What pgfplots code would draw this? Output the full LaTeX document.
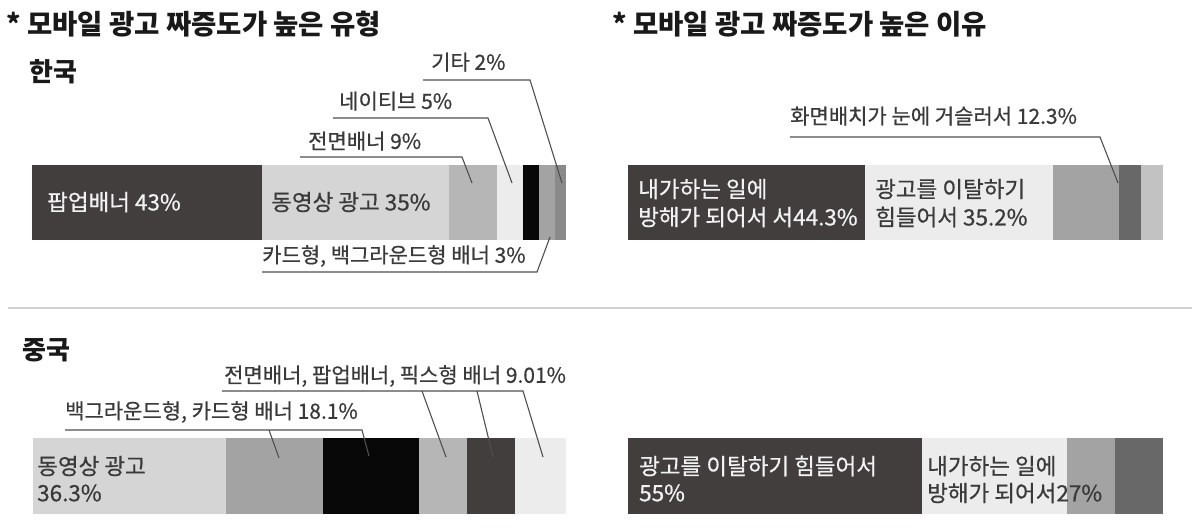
\documentclass[border=0pt]{standalone}
\usepackage{pgfplots}
\pgfplotsset{compat=1.18}
\usepackage{fontspec}
\setmainfont{Noto Sans CJK KR}
\newfontfamily\medfont{Noto Sans CJK KR}[FakeBold=0.6]
\definecolor{cDark}{HTML}{433E3E}
\definecolor{cVid}{HTML}{D5D5D5}
\definecolor{cMid}{HTML}{B6B6B6}
\definecolor{cPale}{HTML}{ECECEC}
\definecolor{cBlack}{HTML}{080808}
\definecolor{cGray}{HTML}{A3A3A3}
\definecolor{cDGray}{HTML}{8A8A8A}
\definecolor{cSlate}{HTML}{686868}
\definecolor{cLG}{HTML}{C2C2C2}
\definecolor{cLine}{HTML}{4F4F4F}
\definecolor{cTxt}{HTML}{3A3A3A}
\definecolor{cWhite}{HTML}{F2F2F2}
\begin{document}
\begin{tikzpicture}
\pgfplotsset{
  onebar/.style 2 args={
    xbar stacked, hide axis, scale only axis, width=#1, height=#2,
    xmin=0, xmax=100, ymin=0, ymax=1, enlargelimits=false, bar width=#2,
    clip=false, anchor=south west,
    every axis plot/.append style={draw=none},
  }
}
% Korea
\begin{axis}[onebar={534pt}{75pt}, at={(32pt,-240pt)}]
\addplot[fill=cDark] coordinates {(43,0.5)};
\addplot[fill=cVid] coordinates {(35,0.5)};
\addplot[fill=cMid] coordinates {(9,0.5)};
\addplot[fill=cPale] coordinates {(5,0.5)};
\addplot[fill=cBlack] coordinates {(3,0.5)};
\addplot[fill=cGray] coordinates {(3,0.5)};
\addplot[fill=cDGray] coordinates {(2,0.5)};
\end{axis}
% Reasons (Korea)
\begin{axis}[onebar={535pt}{75pt}, at={(628pt,-240pt)}]
\addplot[fill=cDark] coordinates {(44.3,0.5)};
\addplot[fill=cPale] coordinates {(35.2,0.5)};
\addplot[fill=cGray] coordinates {(12.3,0.5)};
\addplot[fill=cSlate] coordinates {(4.1,0.5)};
\addplot[fill=cLG] coordinates {(4.1,0.5)};
\end{axis}
% China
\begin{axis}[onebar={533pt}{76pt}, at={(33pt,-514pt)}]
\addplot[fill=cVid] coordinates {(36.3,0.5)};
\addplot[fill=cGray] coordinates {(18.1,0.5)};
\addplot[fill=cBlack] coordinates {(18.1,0.5)};
\addplot[fill=cMid] coordinates {(9.01,0.5)};
\addplot[fill=cDark] coordinates {(9.01,0.5)};
\addplot[fill=cPale] coordinates {(9.48,0.5)};
\end{axis}
% Reasons (China)
\begin{axis}[onebar={535pt}{76pt}, at={(628pt,-514pt)}]
\addplot[fill=cDark] coordinates {(55,0.5)};
\addplot[fill=cPale] coordinates {(27,0.5)};
\addplot[fill=cGray] coordinates {(9,0.5)};
\addplot[fill=cSlate] coordinates {(9,0.5)};
\end{axis}
\begin{scope}[x=1pt,y=-1pt]
\useasboundingbox (0,0) rectangle (1200,531);
\tikzset{
  ttl/.style={anchor=west, inner sep=0pt, text=black!90, font=\fontsize{27.5}{30}\selectfont\bfseries},
  ctry/.style={anchor=west, inner sep=0pt, text=black!90, font=\fontsize{26}{30}\selectfont\bfseries},
  lab/.style={anchor=west, inner sep=0pt, text=cTxt, font=\medfont\fontsize{21}{24}\selectfont},
  blab/.style={anchor=west, inner sep=0pt, text=cTxt, font=\medfont\fontsize{22.5}{25}\selectfont},
  wlab/.style={anchor=west, inner sep=0pt, text=cWhite, font=\medfont\fontsize{22.5}{25}\selectfont},
  ldr/.style={draw=cLine, line width=1.1pt},
}
\node[ttl] at (6,24) {* 모바일 광고 짜증도가 높은 유형};
\node[ttl] at (612,24) {* 모바일 광고 짜증도가 높은 이유};
\node[ctry] at (29,72) {한국};
\node[ctry] at (22,350) {중국};
\draw[draw=black!18, line width=1.5pt] (8,308) -- (1192,308);
% Korea leaders
\node[lab] at (431,62) {기타 2\%};
\draw[ldr] (423,80) -- (530,80) -- (562,183);
\node[lab] at (339,101) {네이티브 5\%};
\draw[ldr] (333,118) -- (488,118) -- (512,183);
\node[lab] at (308,141) {전면배너 9\%};
\draw[ldr] (300,157) -- (462,157) -- (472,183);
\node[lab] at (262,256) {카드형, 백그라운드형 배너 3\%};
\draw[ldr] (550,237) -- (537,272) -- (262,272);
\node[wlab] at (47,202) {팝업배너 43\%};
\node[blab] at (271,202) {동영상 광고 35\%};
% Reasons Korea
\node[lab] at (790,116) {화면배치가 눈에 거슬러서 12.3\%};
\draw[ldr] (790,137) -- (1100,137) -- (1118,183);
\node[wlab] at (638,189) {내가하는 일에};
\node[wlab] at (638,217) {방해가 되어서 서44.3\%};
\node[blab] at (875,189) {광고를 이탈하기};
\node[blab] at (875,217) {힘들어서 35.2\%};
% China leaders
\node[lab] at (224,376) {전면배너, 팝업배너, 픽스형 배너 9.01\%};
\draw[ldr] (222,391) -- (523,391) -- (543,457);
\draw[ldr] (422,391) -- (446,457);
\draw[ldr] (477,391) -- (493,457);
\node[lab] at (65,412) {백그라운드형, 카드형 배너 18.1\%};
\draw[ldr] (65,430) -- (362,430) -- (369,456);
\draw[ldr] (269,430) -- (279,458);
\node[blab] at (37,466) {동영상 광고};
\node[blab] at (37,493) {36.3\%};
% Reasons China
\node[wlab] at (639,466) {광고를 이탈하기 힘들어서};
\node[wlab] at (639,493) {55\%};
\node[blab] at (927,466) {내가하는 일에};
\node[blab] at (927,493) {방해가 되어서27\%};
\end{scope}
\end{tikzpicture}
\end{document}
